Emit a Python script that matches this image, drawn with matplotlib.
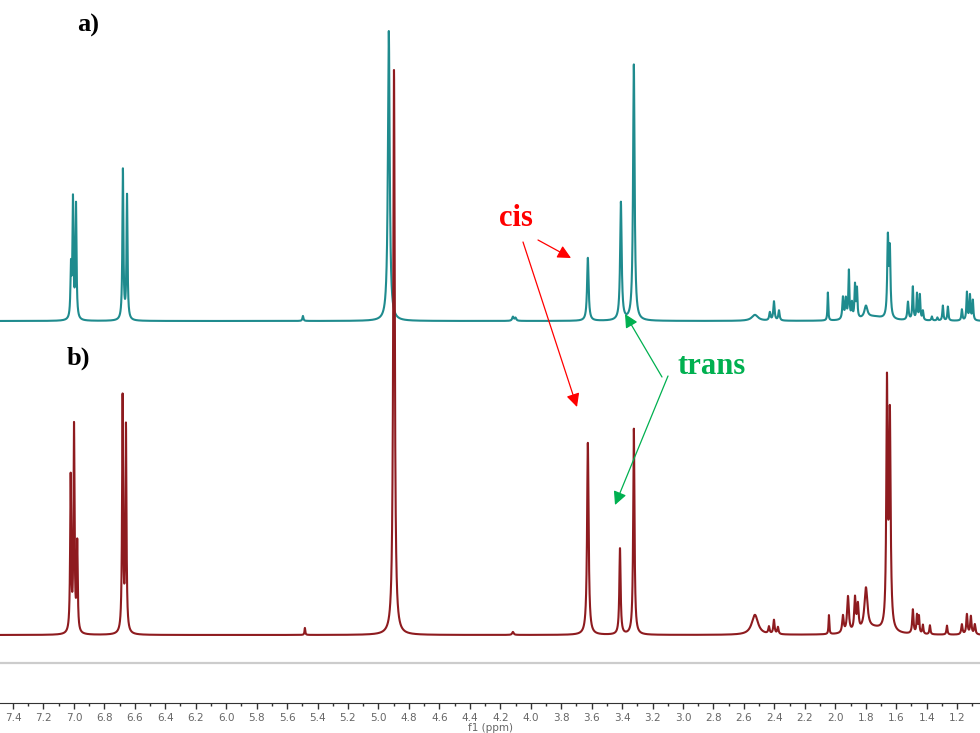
import numpy as np
import matplotlib
matplotlib.use("Agg")
import matplotlib.pyplot as plt

# 1H NMR peak lists: shift (ppm), height (px above baseline), half width (ppm)
top_ppm = [7.019, 7.006, 6.986, 6.678, 6.651, 5.496, 4.932, 4.117, 4.100,
           3.625, 3.408, 3.323,
           2.528, 2.430, 2.403, 2.370, 2.049, 1.950, 1.931, 1.911, 1.891, 1.871, 1.858, 1.799, 1.750,
           1.655, 1.642, 1.523, 1.491, 1.464, 1.445, 1.425, 1.366, 1.330, 1.294, 1.261,
           1.169, 1.136, 1.116, 1.097]
top_height = [50, 118, 114, 150, 124, 5, 290, 4, 3,
              63, 118, 256,
              6, 8, 19, 10, 28, 22, 20, 48, 15, 33, 29, 12, 4,
              78, 66, 18, 33, 26, 25, 9, 4, 3, 15, 14,
              11, 28, 25, 20]
top_width = [0.004, 0.004, 0.004, 0.004, 0.004, 0.004, 0.007, 0.006, 0.006,
             0.006, 0.006, 0.006,
             0.025, 0.005, 0.005, 0.005, 0.003, 0.005, 0.005, 0.004, 0.004, 0.004, 0.004, 0.012, 0.08,
             0.005, 0.005, 0.005, 0.004, 0.004, 0.004, 0.004, 0.004, 0.004, 0.004, 0.004,
             0.004, 0.004, 0.004, 0.004]

bot_ppm = [7.021, 6.999, 6.978, 6.680, 6.658, 5.483, 4.898, 4.117,
           3.625, 3.414, 3.323,
           2.528, 2.436, 2.403, 2.377, 2.042, 1.950, 1.917, 1.871, 1.852, 1.799, 1.750,
           1.661, 1.642, 1.491, 1.464, 1.451, 1.425, 1.379, 1.267,
           1.169, 1.136, 1.110, 1.084]
bot_height = [155, 205, 88, 235, 205, 7, 565, 3,
              192, 86, 206,
              20, 7, 14, 7, 19, 17, 36, 33, 25, 42, 6,
              240, 212, 24, 18, 17, 9, 9, 9,
              10, 20, 18, 10]
bot_width = [0.004, 0.004, 0.004, 0.004, 0.004, 0.003, 0.006, 0.006,
             0.006, 0.005, 0.005,
             0.025, 0.005, 0.005, 0.005, 0.003, 0.006, 0.007, 0.006, 0.006, 0.012, 0.08,
             0.005, 0.006, 0.005, 0.004, 0.004, 0.004, 0.004, 0.004,
             0.005, 0.005, 0.005, 0.005]

top_base = 321
bot_base = 635

ppm = np.linspace(7.6, 0.95, 33000)


def spectrum(pos, hts, wds):
    y = np.zeros_like(ppm)
    for p, h, w in zip(pos, hts, wds):
        y += h / (1 + ((ppm - p) / w) ** 2)
    return y


fig = plt.figure(figsize=(9.8, 7.33), dpi=100)
ax = fig.add_axes([0, 30 / 733, 1, 703 / 733])
ax.plot(ppm, top_base - spectrum(top_ppm, top_height, top_width), color='#1f8b8e', lw=1.5)
ax.plot(ppm, bot_base - spectrum(bot_ppm, bot_height, bot_width), color='#8e1b1f', lw=1.5)
ax.axhline(663, color='#cccccc', lw=1.6)

ax.set_xlim(7.485, 1.05)
ax.set_ylim(703, 0)
ax.set_xticks(np.arange(1.2, 7.5, 0.2))
ax.set_xticklabels([f'{v:.1f}' for v in np.arange(1.2, 7.5, 0.2)])
ax.set_xticks(np.arange(1.1, 7.5, 0.1), minor=True)
ax.tick_params(axis='x', which='major', length=4, width=1, colors='#333333',
               labelcolor='#666666', labelsize=7.5, pad=3)
ax.tick_params(axis='x', which='minor', length=2.5, width=1, colors='#333333')
ax.set_yticks([])
for s in ['top', 'left', 'right']:
    ax.spines[s].set_visible(False)
ax.spines['bottom'].set_color('#333333')
ax.set_xlabel('f1 (ppm)', fontsize=7.5, color='#666666', labelpad=0.5)
ax.patch.set_alpha(0)

# overlay in pixel coordinates for labels and arrows
ov = fig.add_axes([0, 0, 1, 1])
ov.set_xlim(0, 980)
ov.set_ylim(733, 0)
ov.axis('off')

serif = dict(family='Liberation Serif', weight='bold')
ov.text(88, 25, 'a)', fontsize=19, ha='center', va='center', **serif)
ov.text(78, 358, 'b)', fontsize=19, ha='center', va='center', **serif)
ov.text(516, 218, 'cis', fontsize=22, color='#ff0000', ha='center', va='center', **serif)
ov.text(712, 367, 'trans', fontsize=22, color='#00b050', ha='center', va='center', **serif)

red = dict(arrowstyle='-|>', color='#ff0000', lw=0.9, mutation_scale=20, shrinkA=0, shrinkB=0)
green = dict(arrowstyle='-|>', color='#00b050', lw=0.9, mutation_scale=20, shrinkA=0, shrinkB=0)
ov.annotate('', xy=(571, 258), xytext=(538, 240), arrowprops=red)
ov.annotate('', xy=(577, 407), xytext=(523, 242), arrowprops=red)
ov.annotate('', xy=(625, 314), xytext=(662, 377), arrowprops=green)
ov.annotate('', xy=(615, 505), xytext=(668, 376), arrowprops=green)

fig.savefig('out.png', dpi=100)
